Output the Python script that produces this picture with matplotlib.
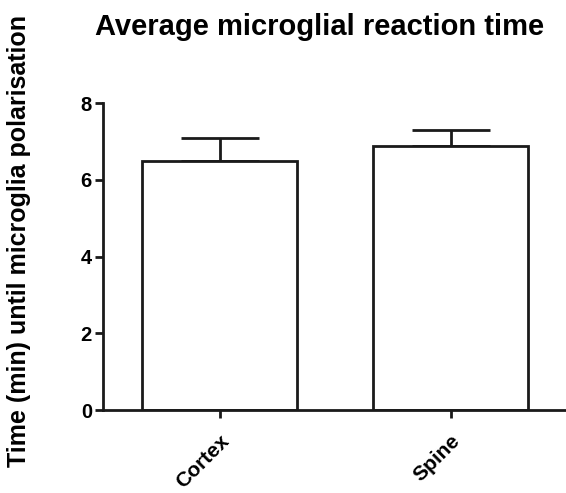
import matplotlib
matplotlib.use("Agg")
import matplotlib.pyplot as plt

# data
regions = ["Cortex", "Spine"]
mean_time = [6.48, 6.87]
sem_time = [0.60, 0.42]

plt.rcParams['font.family'] = ['Liberation Sans', 'DejaVu Sans']
plt.rcParams['font.weight'] = 'bold'

fig = plt.figure(figsize=(5.66, 4.93), dpi=100)
ax = fig.add_axes([0.182, 0.168, 0.818, 0.623])

pos = list(range(len(regions)))
ax.errorbar(pos, mean_time, yerr=[[0] * len(sem_time), sem_time], fmt='none',
            ecolor='#1a1a1a', elinewidth=2, capsize=28, capthick=2, zorder=1)
ax.bar(pos, mean_time, width=0.67, color='white', edgecolor='#1a1a1a',
       linewidth=2, zorder=2)

ax.set_xlim(-0.506, 1.5)
ax.set_ylim(0, 8)
ax.set_yticks([0, 2, 4, 6, 8])
ax.set_xticks(pos)
ax.set_xticklabels(regions, rotation=45, ha='right', rotation_mode='anchor',
                   fontsize=15, fontweight='bold')
for lab in ax.get_yticklabels():
    lab.set_fontsize(14.5)
    lab.set_fontweight('bold')

for s in ['top', 'right']:
    ax.spines[s].set_visible(False)
for s in ['left', 'bottom']:
    ax.spines[s].set_linewidth(2)
    ax.spines[s].set_color('#1a1a1a')
ax.tick_params(axis='both', width=2, length=6, color='#1a1a1a', pad=2)
ax.tick_params(axis='x', pad=9)

ax.set_ylabel('Time (min) until microglia polarisation', fontsize=18,
              fontweight='bold')
ax.yaxis.set_label_coords(-0.155, 0.55)
fig.text(0.564, 0.946, 'Average microglial reaction time', ha='center',
         va='center', fontsize=21, fontweight='bold')

fig.savefig('out.png', dpi=100)
